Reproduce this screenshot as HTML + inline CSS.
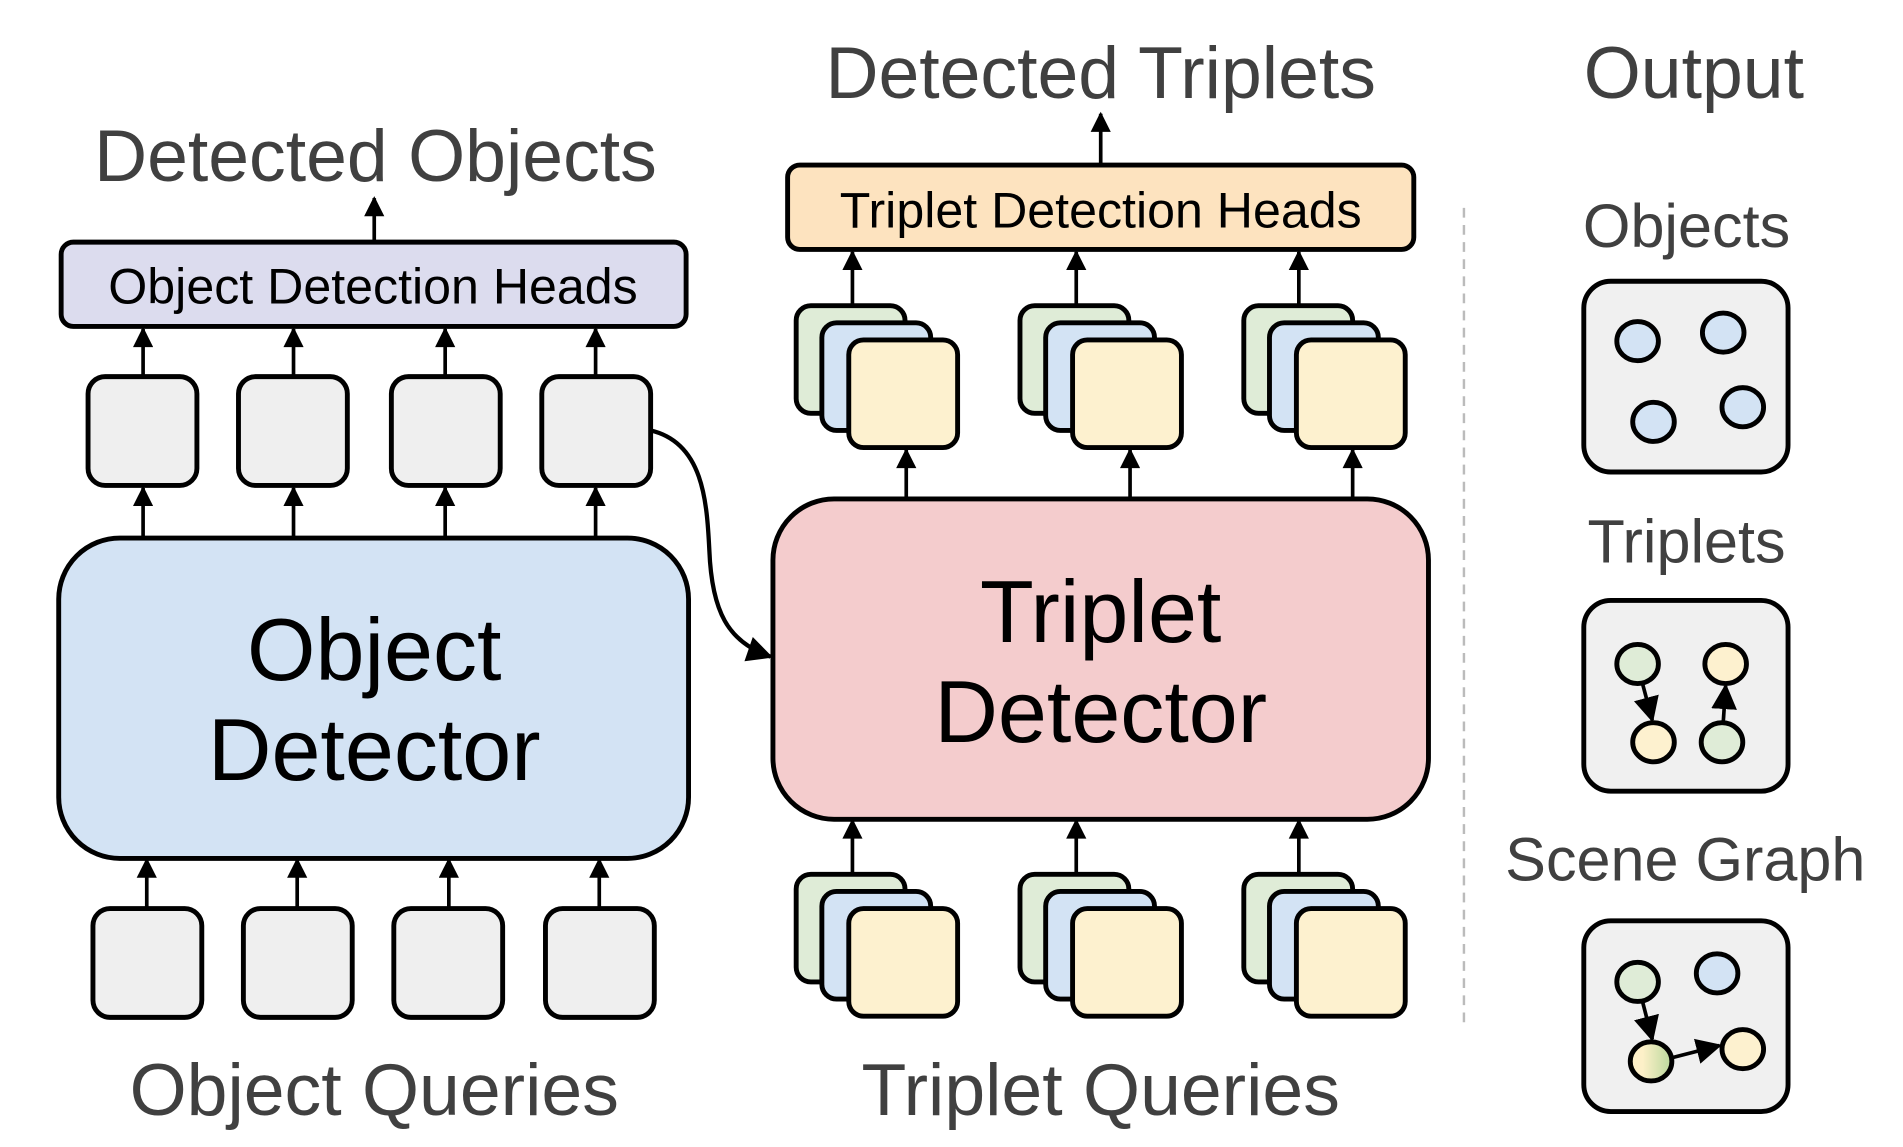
<!DOCTYPE html>
<html><head><meta charset="utf-8"><style>html,body{margin:0;padding:0;background:#fff}svg{display:block}</style></head>
<body>
<svg width="1903" height="1147" viewBox="0 0 1556 938" preserveAspectRatio="none" xmlns="http://www.w3.org/2000/svg" font-family="Liberation Sans, Arial, sans-serif">
<defs>
<marker id="ah" viewBox="0 0 10 10" refX="9" refY="5" markerWidth="6.5" markerHeight="5.5" orient="auto-start-reverse" markerUnits="strokeWidth">
<path d="M0,0 L10,5 L0,10 z" fill="#000"/></marker>
<marker id="ah3" viewBox="0 0 10 10" refX="9" refY="5" markerWidth="7" markerHeight="6" orient="auto" markerUnits="strokeWidth">
<path d="M0,0 L10,5 L0,10 z" fill="#000"/></marker>
<marker id="ah2" viewBox="0 0 10 10" refX="9" refY="5" markerWidth="7" markerHeight="7" orient="auto" markerUnits="strokeWidth">
<path d="M0,0 L10,5 L0,10 z" fill="#000"/></marker>
<linearGradient id="g1" x1="0" x2="1" y1="0" y2="0"><stop offset="0.3" stop-color="#fdf0c8"/><stop offset="1" stop-color="#b9d89c"/></linearGradient>
</defs>
<g fill="#404040" text-anchor="middle" font-size="60">
<text x="307" y="148">Detected Objects</text>
<text x="900" y="80">Detected Triplets</text>
<text x="1385" y="80">Output</text>
<text x="306" y="912">Object Queries</text>
<text x="900" y="912">Triplet Queries</text>
<text x="1379" y="202" font-size="50">Objects</text>
<text x="1379" y="460" font-size="50">Triplets</text>
<text x="1378" y="720" font-size="50">Scene Graph</text>
</g>
<g stroke="#000" stroke-width="3" fill="none" marker-end="url(#ah)">
<line x1="306" y1="197" x2="306" y2="162"/>
<line x1="900" y1="134" x2="900" y2="93"/>
<line x1="117" y1="308" x2="117" y2="269"/><line x1="240" y1="308" x2="240" y2="269"/><line x1="364" y1="308" x2="364" y2="269"/><line x1="487" y1="308" x2="487" y2="269"/>
<line x1="117" y1="440" x2="117" y2="399"/><line x1="240" y1="440" x2="240" y2="399"/><line x1="364" y1="440" x2="364" y2="399"/><line x1="487" y1="440" x2="487" y2="399"/>
<line x1="120" y1="743" x2="120" y2="703"/><line x1="243" y1="743" x2="243" y2="703"/><line x1="367" y1="743" x2="367" y2="703"/><line x1="490" y1="743" x2="490" y2="703"/>
<line x1="697" y1="250" x2="697" y2="206"/><line x1="880" y1="250" x2="880" y2="206"/><line x1="1062" y1="250" x2="1062" y2="206"/>
<line x1="741" y1="408" x2="741" y2="368"/><line x1="924" y1="408" x2="924" y2="368"/><line x1="1106" y1="408" x2="1106" y2="368"/>
<line x1="697" y1="715" x2="697" y2="671"/><line x1="880" y1="715" x2="880" y2="671"/><line x1="1062" y1="715" x2="1062" y2="671"/>
</g>
<path d="M532,352 C575,362 578,410 580,450 C582,500 595,525 630,537" stroke="#000" stroke-width="3.5" fill="none" marker-end="url(#ah3)"/>
<g stroke="#000" stroke-width="4">
<rect x="50" y="198" width="511" height="69" rx="10" fill="#dcdcee"/>
<rect x="644" y="135" width="512" height="69" rx="10" fill="#fde3bf"/>
<g fill="#efefef">
<rect x="72" y="308" width="89" height="89" rx="14"/><rect x="195" y="308" width="89" height="89" rx="14"/><rect x="320" y="308" width="89" height="89" rx="14"/><rect x="443" y="308" width="89" height="89" rx="14"/>
<rect x="76" y="743" width="89" height="89" rx="14"/><rect x="199" y="743" width="89" height="89" rx="14"/><rect x="322" y="743" width="89" height="89" rx="14"/><rect x="446" y="743" width="89" height="89" rx="14"/>
</g>
<rect x="48" y="440" width="515" height="262" rx="50" fill="#d3e3f4"/>
<rect x="632" y="408" width="536" height="262" rx="50" fill="#f4cccd"/>
<g id="st">
<rect x="651" y="250" width="89" height="88" rx="12" fill="#dfecd7"/>
<rect x="672" y="264" width="89" height="88" rx="12" fill="#d3e3f4"/>
<rect x="694" y="278" width="89" height="88" rx="12" fill="#fdf1cf"/>
</g>
<use href="#st" x="183"/><use href="#st" x="366"/>
<use href="#st" y="465"/><use href="#st" x="183" y="465"/><use href="#st" x="366" y="465"/>
<g fill="#f0f0f0">
<rect x="1295" y="230" width="167" height="156" rx="22"/>
<rect x="1295" y="491" width="167" height="156" rx="22"/>
<rect x="1295" y="753" width="167" height="156" rx="22"/>
</g>
<g fill="#d3e3f4"><ellipse cx="1339" cy="279" rx="17" ry="16"/><ellipse cx="1409" cy="272" rx="17" ry="16"/><ellipse cx="1352" cy="345" rx="17" ry="16"/><ellipse cx="1425" cy="333" rx="17" ry="16"/></g>
<ellipse cx="1339" cy="543" rx="17" ry="16" fill="#dfecd7"/><ellipse cx="1411" cy="543" rx="17" ry="16" fill="#fdf1cf"/>
<ellipse cx="1352" cy="607" rx="17" ry="16" fill="#fdf1cf"/><ellipse cx="1408" cy="607" rx="17" ry="16" fill="#dfecd7"/>
<ellipse cx="1339" cy="803" rx="17" ry="16" fill="#dfecd7"/><ellipse cx="1404" cy="796" rx="17" ry="16" fill="#d3e3f4"/>
<ellipse cx="1350" cy="868" rx="17" ry="16" fill="url(#g1)"/><ellipse cx="1425" cy="858" rx="17" ry="16" fill="#fdf1cf"/>
</g>
<line x1="1197" y1="170" x2="1197" y2="840" stroke="#bbb" stroke-width="2" stroke-dasharray="8,6"/>
<g stroke="#000" stroke-width="3" marker-end="url(#ah2)">
<line x1="1343" y1="559" x2="1351" y2="589"/>
<line x1="1409" y1="591" x2="1411" y2="561"/>
<line x1="1343" y1="819" x2="1351" y2="850"/>
<line x1="1367" y1="865" x2="1406" y2="855"/>
</g>
<g text-anchor="middle" fill="#000">
<text x="305" y="248" font-size="41">Object Detection Heads</text>
<text x="900" y="186" font-size="41">Triplet Detection Heads</text>
<text x="306" y="556" font-size="72">Object</text>
<text x="306" y="638" font-size="72">Detector</text>
<text x="900" y="525" font-size="72">Triplet</text>
<text x="900" y="607" font-size="72">Detector</text>
</g>
</svg>
</body></html>
